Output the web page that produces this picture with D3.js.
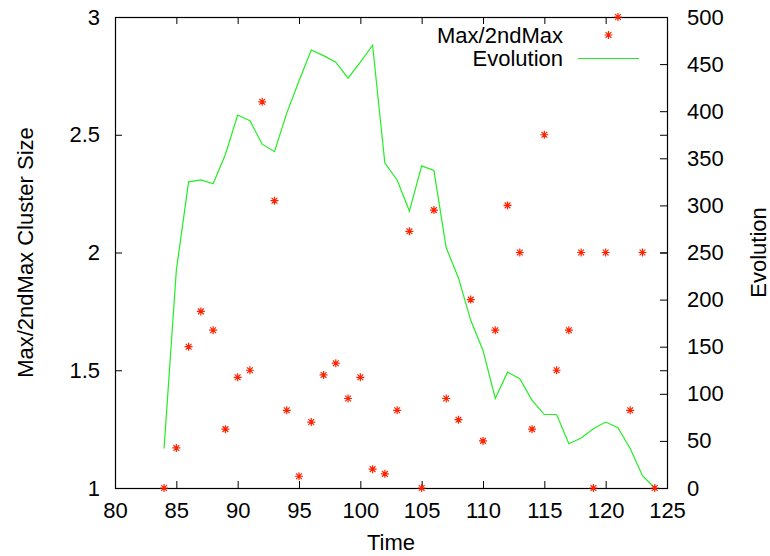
<!DOCTYPE html>
<html>
<head>
<meta charset="utf-8">
<script src="https://cdnjs.cloudflare.com/ajax/libs/d3/7.8.5/d3.min.js"></script>
<style>
  body { margin: 0; background: #fff; }
  text { font-family: "Liberation Sans", Arial, Helvetica, sans-serif; font-size: 22px; fill: #000; }
</style>
</head>
<body>
<svg id="chart" width="770" height="556"></svg>
<script>
// data
var times = [84, 85, 86, 87, 88, 89, 90, 91, 92, 93, 94, 95, 96, 97, 98, 99, 100, 101, 102, 103, 104,
             105, 106, 107, 108, 109, 110, 111, 112, 113, 114, 115, 116, 117, 118, 119, 120, 121, 122, 123, 124];
var ratioValues = [1.0, 1.17, 1.6, 1.75, 1.67, 1.25, 1.47, 1.5, 2.64, 2.22, 1.33, 1.05, 1.28, 1.48, 1.53, 1.38, 1.47, 1.08, 1.06, 1.33, 2.09,
                   1.0, 2.18, 1.38, 1.29, 1.8, 1.2, 1.67, 2.2, 2.0, 1.25, 2.5, 1.5, 1.67, 2.0, 1.0, 2.0, 3.0, 1.33, 2.0, 1.0];
var evolutionValues = [42, 231, 325, 327, 323, 354, 396, 390, 365, 357, 398, 432, 465, 459, 452, 435, 452, 470, 345, 327, 294,
                       342, 337, 255, 223, 178, 146, 95, 123, 116, 93, 78, 78, 47, 53, 63, 70, 64, 42, 13, 0];
var xTicks = [80, 85, 90, 95, 100, 105, 110, 115, 120, 125];
var yTicks = [1, 1.5, 2, 2.5, 3];
var y2Ticks = [0, 50, 100, 150, 200, 250, 300, 350, 400, 450, 500];

var plotLeft = 115, plotRight = 667, plotTop = 17, plotBottom = 488;
var svg = d3.select("#chart");

var x = d3.scaleLinear().domain([80, 125]).range([plotLeft, plotRight]);
var y = d3.scaleLinear().domain([1, 3]).range([plotBottom, plotTop]);
var y2 = d3.scaleLinear().domain([0, 500]).range([plotBottom, plotTop]);

var red = "#ff2200", green = "#22ee22";

// axes, ticks drawn inward
function styleAxis(g) {
	g.select(".domain").remove();
	g.selectAll(".tick line").attr("stroke", "#000");
	g.selectAll(".tick text").attr("font-size", null).attr("font-family", null);
}

svg.append("g")
	.attr("transform", "translate(0," + plotBottom + ")")
	.call(d3.axisBottom(x).tickValues(xTicks).tickSize(-7).tickPadding(14).tickFormat(d3.format("d")))
	.call(styleAxis);

svg.append("g")
	.attr("transform", "translate(0," + plotTop + ")")
	.call(d3.axisTop(x).tickValues(xTicks).tickSize(-7).tickFormat(""))
	.call(styleAxis);

svg.append("g")
	.attr("transform", "translate(" + plotLeft + ",0)")
	.call(d3.axisLeft(y).tickValues(yTicks).tickSize(-7).tickPadding(15).tickFormat(function(d) { return d; }))
	.call(styleAxis);

// mirrored left ticks on the right border
svg.append("g")
	.attr("transform", "translate(" + plotRight + ",0)")
	.call(d3.axisRight(y).tickValues(yTicks).tickSize(-7).tickFormat(""))
	.call(styleAxis);

svg.append("g")
	.attr("transform", "translate(" + plotRight + ",0)")
	.call(d3.axisRight(y2).tickValues(y2Ticks).tickSize(-7).tickPadding(20).tickFormat(d3.format("d")))
	.call(styleAxis);

// border
svg.append("rect")
	.attr("x", plotLeft + 0.5).attr("y", plotTop + 0.5)
	.attr("width", plotRight - plotLeft).attr("height", plotBottom - plotTop)
	.attr("fill", "none").attr("stroke", "#000").attr("stroke-width", 1.2);

// evolution line
var line = d3.line()
	.x(function(d, i) { return x(times[i]); })
	.y(function(d) { return y2(d); });

svg.append("path")
	.datum(evolutionValues)
	.attr("d", line)
	.attr("fill", "none")
	.attr("stroke", green)
	.attr("stroke-width", 1.2);

// star markers
function starPath(cx, cy, r) {
	var a = r * 0.72;
	return "M" + (cx - r) + "," + cy + "H" + (cx + r) +
		"M" + cx + "," + (cy - r) + "V" + (cy + r) +
		"M" + (cx - a) + "," + (cy - a) + "L" + (cx + a) + "," + (cy + a) +
		"M" + (cx - a) + "," + (cy + a) + "L" + (cx + a) + "," + (cy - a);
}

svg.append("g").selectAll("path")
	.data(ratioValues)
	.enter().append("path")
	.attr("d", function(d, i) { return starPath(x(times[i]), y(d), 4); })
	.attr("stroke", red)
	.attr("stroke-width", 1.2)
	.attr("fill", "none");

// legend
svg.append("text").attr("x", 563).attr("y", 43).attr("text-anchor", "end").text("Max/2ndMax");
svg.append("text").attr("x", 563).attr("y", 66).attr("text-anchor", "end").text("Evolution");
svg.append("path").attr("d", starPath(608.5, 35, 4)).attr("stroke", red).attr("stroke-width", 1.2).attr("fill", "none");
svg.append("line").attr("x1", 578).attr("x2", 639).attr("y1", 58.5).attr("y2", 58.5)
	.attr("stroke", green).attr("stroke-width", 1.2);

// axis titles
svg.append("text")
	.attr("x", (plotLeft + plotRight) / 2).attr("y", 550)
	.attr("text-anchor", "middle").text("Time");

svg.append("text")
	.attr("transform", "translate(33," + ((plotTop + plotBottom) / 2) + ") rotate(-90)")
	.attr("text-anchor", "middle").text("Max/2ndMax Cluster Size");

svg.append("text")
	.attr("transform", "translate(766," + ((plotTop + plotBottom) / 2) + ") rotate(-90)")
	.attr("text-anchor", "middle").text("Evolution");
</script>
</body>
</html>
